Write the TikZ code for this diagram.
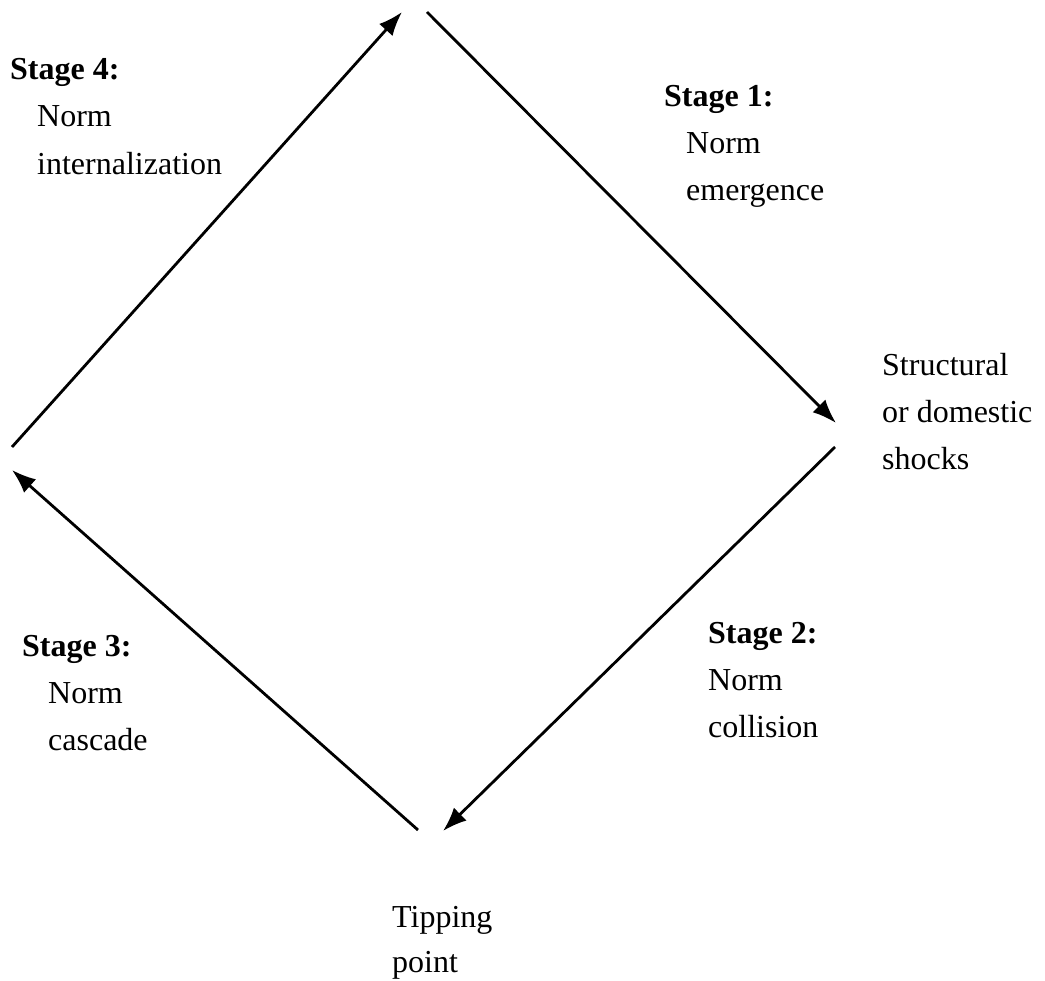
\documentclass[tikz,border=0pt]{standalone}
\usepackage{fontspec}
\setmainfont{Liberation Serif}
\usetikzlibrary{arrows.meta}
\begin{document}
\begin{tikzpicture}[x=1pt,y=-1pt,
  lbl/.style={anchor=base west,inner sep=0pt,font=\fontsize{32}{38}\selectfont},
  head/.style={lbl,font=\fontsize{32}{38}\selectfont\bfseries},
  flow/.style={line width=2.8pt,-{Latex[length=24pt,width=18pt]}}]
\useasboundingbox (0,0) rectangle (1045,981);

% corners of the cycle
\coordinate (topL) at (402,12);
\coordinate (topR) at (427,12);
\coordinate (rightT) at (836,423);
\coordinate (rightB) at (835,447);
\coordinate (botR) at (443,831);
\coordinate (botL) at (418,830);
\coordinate (leftB) at (12,470);
\coordinate (leftT) at (12,447);

\draw[flow] (topR) -- (rightT);
\draw[flow] (rightB) -- (botR);
\draw[flow] (botL) -- (leftB);
\draw[flow] (leftT) -- (topL);

% stage labels
\node[head] (s4) at (10,80) {Stage 4:};
\node[lbl] (s4a) at (37,127) {Norm};
\node[lbl] (s4b) at (37,175) {internalization};

\node[head] (s1) at (664,107) {Stage 1:};
\node[lbl] (s1a) at (686,154) {Norm};
\node[lbl] (s1b) at (686,201) {emergence};

\node[lbl] (sh1) at (882,376) {Structural};
\node[lbl] (sh2) at (882,423) {or domestic};
\node[lbl] (sh3) at (882,470) {shocks};

\node[head] (s2) at (708,643) {Stage 2:};
\node[lbl] (s2a) at (708,690) {Norm};
\node[lbl] (s2b) at (708,737) {collision};

\node[head] (s3) at (22,656) {Stage 3:};
\node[lbl] (s3a) at (48,703) {Norm};
\node[lbl] (s3b) at (48,750) {cascade};

\node[lbl] (tp1) at (392,927) {Tipping};
\node[lbl] (tp2) at (392,972) {point};
\end{tikzpicture}
\end{document}
